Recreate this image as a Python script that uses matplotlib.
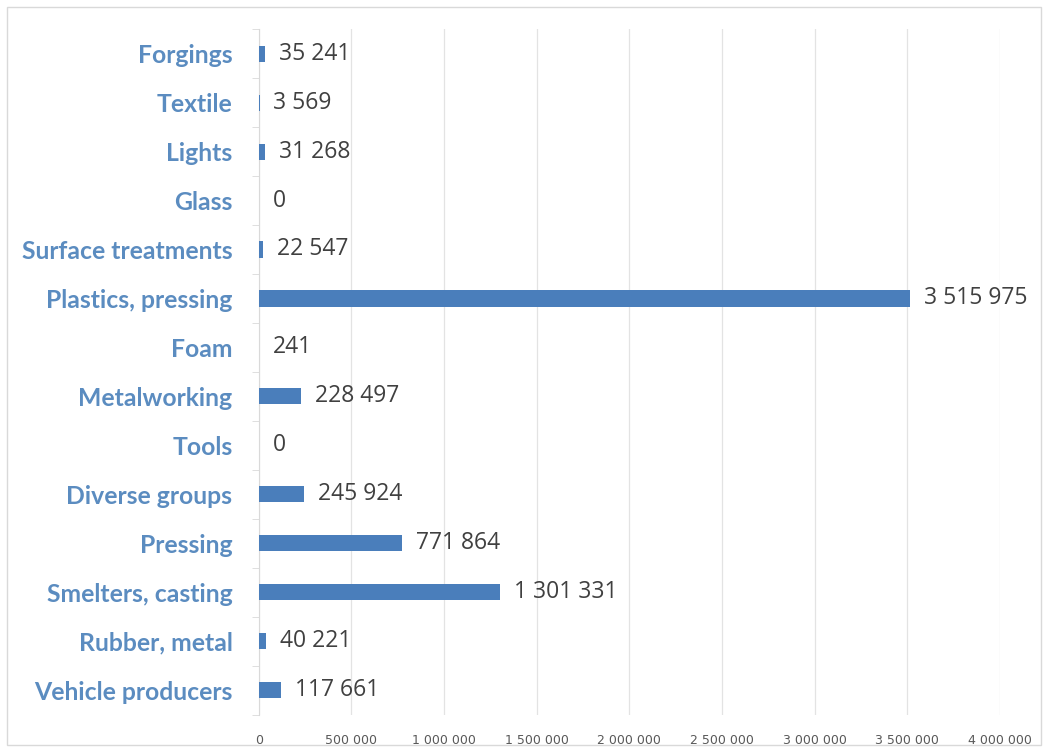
import matplotlib.pyplot as plt
from matplotlib.patches import Rectangle
from matplotlib.ticker import FuncFormatter, FixedLocator
import numpy as np

categories = ['Forgings', 'Textile', 'Lights', 'Glass', 'Surface treatments',
              'Plastics, pressing', 'Foam', 'Metalworking', 'Tools',
              'Diverse groups', 'Pressing', 'Smelters, casting',
              'Rubber, metal', 'Vehicle producers']
values = [35241, 3569, 31268, 0, 22547, 3515975, 241, 228497, 0,
          245924, 771864, 1301331, 40221, 117661]
xticks = [0, 500000, 1000000, 1500000, 2000000, 2500000, 3000000, 3500000, 4000000]


def spaced(v):
    return f'{int(v):,}'.replace(',', ' ')


fig = plt.figure(figsize=(10.48, 7.49), dpi=100)
ax = fig.add_axes([0.247, 0.046, 0.707, 0.915])

# outer frame of the picture
fig.patches.append(Rectangle((0.007, 0.005), 0.986, 0.985, transform=fig.transFigure,
                             fill=False, edgecolor='#D9D9D9', lw=1))

y = np.arange(len(categories))
ax.barh(y, values, height=0.33, color='#4A7EBB', zorder=3)
for yi, v in zip(y, values):
    ax.annotate(spaced(v), (v, yi), xytext=(10, 0), textcoords='offset points',
                va='center', ha='left', fontsize=16.5, color='#404040',
                family='Open Sans', zorder=4)

ax.set_ylim(len(categories) - 0.5, -0.5)
ax.set_xlim(0, 4000000)
ax.set_xticks(xticks)
ax.xaxis.set_major_formatter(FuncFormatter(lambda v, p: spaced(v)))
ax.tick_params(axis='x', length=0, labelsize=9, labelcolor='#595959', pad=14)
ax.grid(axis='x', color='#E3E3E3', lw=0.9, zorder=0)

ax.set_yticks(y)
ax.set_yticklabels(categories, fontsize=17.8, fontweight='bold', color='#5B8CC0',
                   family='Lato')
ax.tick_params(axis='y', which='major', length=0, pad=19)
ax.yaxis.set_minor_locator(FixedLocator(np.arange(-0.5, len(categories), 1)))
ax.tick_params(axis='y', which='minor', length=5, color='#D9D9D9')

for s in ['top', 'right', 'bottom']:
    ax.spines[s].set_visible(False)
ax.spines['left'].set_color('#D9D9D9')

fig.savefig('out.png', dpi=100)
